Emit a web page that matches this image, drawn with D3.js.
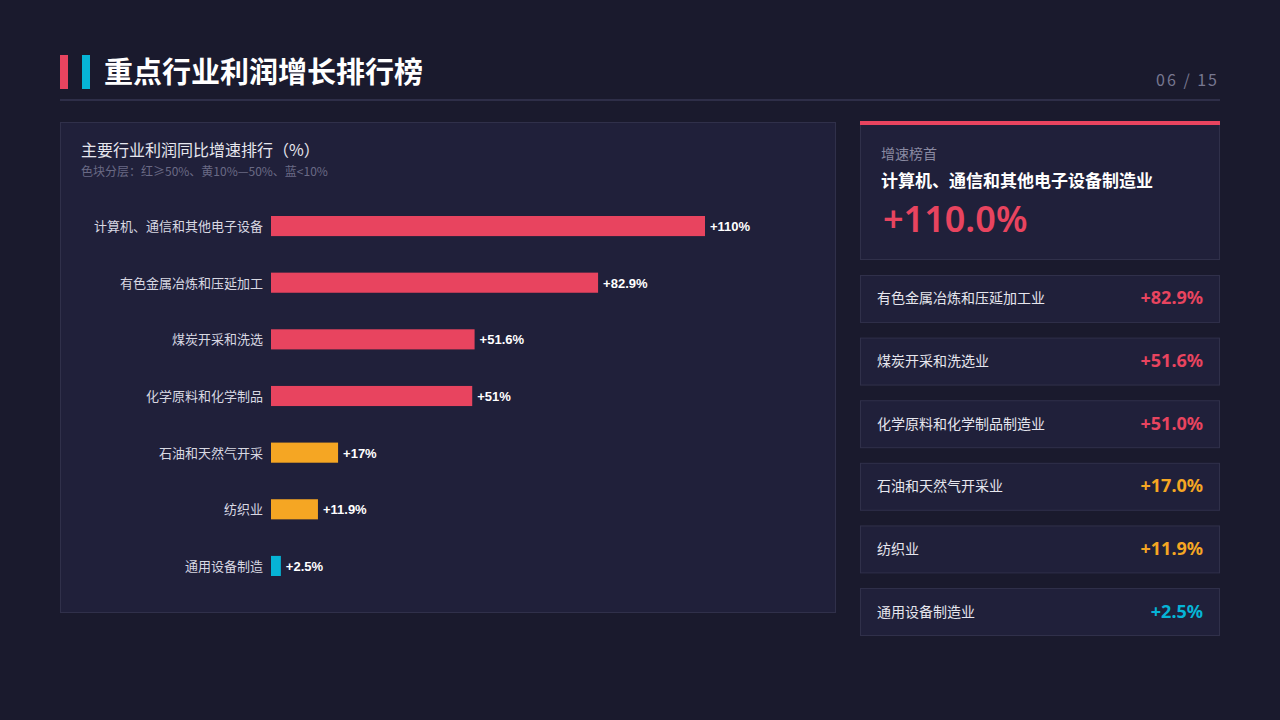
<!DOCTYPE html>
<html><head><meta charset="utf-8">
<script src="https://cdn.jsdelivr.net/npm/d3@7"></script>
<style>
body{margin:0;background:#1a1a2d;}
svg{display:block;font-family:"Noto Sans CJK SC","Noto Sans",sans-serif;}
</style></head>
<body><svg id="c" width="1280" height="720"></svg>
<script>
const industries = ["计算机、通信和其他电子设备", "有色金属冶炼和压延加工", "煤炭开采和洗选", "化学原料和化学制品", "石油和天然气开采", "纺织业", "通用设备制造"];
const fullNames = ["计算机、通信和其他电子设备制造业", "有色金属冶炼和压延加工业", "煤炭开采和洗选业", "化学原料和化学制品制造业", "石油和天然气开采业", "纺织业", "通用设备制造业"];
const growth = [110, 82.9, 51.6, 51, 17, 11.9, 2.5];

const RED = "#e8445f", YEL = "#f5a623", BLU = "#06b4d6";
const colorOf = v => v >= 50 ? RED : v >= 10 ? YEL : BLU;

const svg = d3.select("#c");
svg.append("rect").attr("width", 1280).attr("height", 720).attr("fill", "#1a1a2d");

// 标题
svg.append("rect").attr("x", 60).attr("y", 55).attr("width", 8).attr("height", 34).attr("fill", RED);
svg.append("rect").attr("x", 82).attr("y", 55).attr("width", 8).attr("height", 34).attr("fill", BLU);
svg.append("text").attr("x", 104).attr("y", 83).attr("fill", "#fff").attr("font-size", 29).attr("font-weight", 700).text("重点行业利润增长排行榜");
svg.append("text").attr("x", 1219).attr("y", 86).attr("text-anchor", "end").attr("fill", "#777790").attr("font-size", 16).attr("letter-spacing", 2).text("06 / 15");
svg.append("rect").attr("x", 60).attr("y", 99).attr("width", 1160).attr("height", 2).attr("fill", "#2e2e48");

// 左侧面板
svg.append("rect").attr("x", 60.5).attr("y", 122.5).attr("width", 775).attr("height", 490).attr("fill", "#20203a").attr("stroke", "#30304a");
svg.append("text").attr("x", 81).attr("y", 156).attr("fill", "#e6e6ee").attr("font-size", 16).text("主要行业利润同比增速排行（%）");
svg.append("text").attr("x", 81).attr("y", 176).attr("fill", "#6a6a85").attr("font-size", 12).text("色块分层：红≥50%、黄10%—50%、蓝<10%");

const x = d3.scaleLinear().domain([0, 110]).range([271, 705]);
const y = d3.scaleBand().domain(industries).range([199, 593]).paddingInner(0.645).paddingOuter(0.3);

const g = svg.append("g");
g.selectAll("rect.bar").data(industries).join("rect").attr("class", "bar")
  .attr("x", x(0)).attr("y", d => y(d)).attr("height", y.bandwidth())
  .attr("width", (d, i) => x(growth[i]) - x(0)).attr("fill", (d, i) => colorOf(growth[i]));
g.selectAll("text.lab").data(industries).join("text").attr("class", "lab")
  .attr("x", 263).attr("y", d => y(d) + y.bandwidth() / 2 + 5).attr("text-anchor", "end")
  .attr("fill", "#d8d8e2").attr("font-size", 13).text(d => d);
g.selectAll("text.val").data(industries).join("text").attr("class", "val")
  .attr("x", (d, i) => x(growth[i]) + 5).attr("y", d => y(d) + y.bandwidth() / 2 + 5)
  .attr("fill", "#fff").attr("font-size", 13).attr("font-weight", 700)
  .attr("font-family", "Liberation Sans, Arial, sans-serif")
  .text((d, i) => "+" + growth[i] + "%");

// 右侧榜首卡片
svg.append("rect").attr("x", 860.5).attr("y", 122.5).attr("width", 359).attr("height", 137).attr("fill", "#20203a").attr("stroke", "#30304a");
svg.append("rect").attr("x", 860).attr("y", 121).attr("width", 360).attr("height", 4).attr("fill", RED);
svg.append("text").attr("x", 881).attr("y", 159).attr("fill", "#8a8aa2").attr("font-size", 14).text("增速榜首");
svg.append("text").attr("x", 881).attr("y", 187).attr("fill", "#fff").attr("font-size", 17).attr("font-weight", 700).text(fullNames[0]);
svg.append("text").attr("x", 883).attr("y", 232).attr("fill", RED).attr("font-size", 36).attr("font-weight", 600)
  .attr("font-family", "Noto Sans, sans-serif").text("+" + growth[0].toFixed(1) + "%");

// 其余排行
const rest = d3.range(1, growth.length);
const cy = d3.scaleBand().domain(rest).range([275, 635]).paddingInner(0.25);
const cards = svg.selectAll("g.card").data(rest).join("g").attr("class", "card")
  .attr("transform", i => `translate(0,${cy(i)})`);
cards.append("rect").attr("x", 860.5).attr("y", 0.5).attr("width", 359).attr("height", cy.bandwidth()).attr("fill", "#20203a").attr("stroke", "#30304a");
cards.append("text").attr("x", 877).attr("y", cy.bandwidth() / 2 + 5).attr("fill", "#e6e6ee").attr("font-size", 14).text(i => fullNames[i]);
cards.append("text").attr("x", 1203).attr("y", cy.bandwidth() / 2 + 6).attr("text-anchor", "end")
  .attr("fill", i => colorOf(growth[i])).attr("font-size", 18).attr("font-weight", 700)
  .attr("font-family", "Noto Sans, sans-serif").text(i => "+" + growth[i].toFixed(1) + "%");
</script></body></html>
